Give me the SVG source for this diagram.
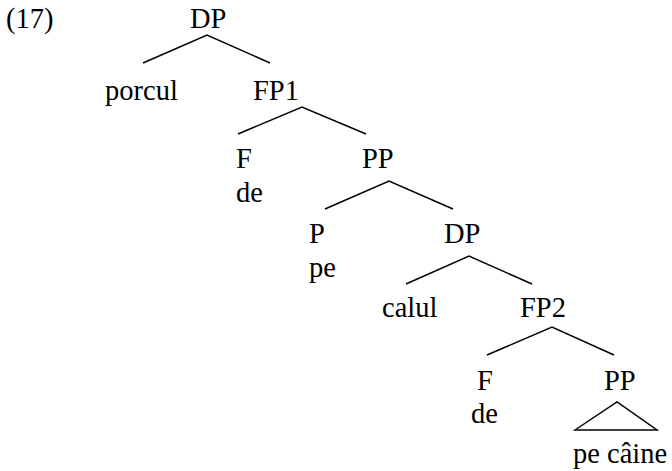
<svg xmlns="http://www.w3.org/2000/svg" width="672" height="471" viewBox="0 0 672 471">
<style>
.t{font-family:'Liberation Serif','Times New Roman','DejaVu Serif',serif;font-size:28.5px;fill:#000}
.e{stroke:#000;stroke-width:1.5;fill:none}
</style>
<rect width="672" height="471" fill="#fff"/>
<g class="t">
<text id="ex" x="6" y="28">(17)</text>
<g id="n_dp1"><text x="190" y="28">DP</text></g>
<g id="n_porcul"><text x="105" y="100">porcul</text></g>
<g id="n_fp1"><text x="253" y="100">FP1</text></g>
<g id="n_f1"><text x="236" y="168">F</text><text x="236" y="202">de</text></g>
<g id="n_pp1"><text x="362" y="168">PP</text></g>
<g id="n_p"><text x="309" y="243">P</text><text x="309" y="277">pe</text></g>
<g id="n_dp2"><text x="444" y="243">DP</text></g>
<g id="n_calul"><text x="382" y="317">calul</text></g>
<g id="n_fp2"><text x="520" y="317">FP2</text></g>
<g id="n_f2"><text x="477" y="390">F</text><text x="471" y="423">de</text></g>
<g id="n_pp2"><text x="604" y="390">PP</text></g>
<g id="n_tri"><text x="573" y="463">pe câine</text></g>
</g>
<g id="edges" class="e">
<path d="M143 63L207 35L270 63"/>
<path d="M238 134L302 107L366 134"/>
<path d="M325 209L389 181L453 209"/>
<path d="M406 284L469 256L532 284"/>
<path d="M487 355L552 327L614 355"/>
<path d="M575 430L617 402L657 430Z"/>
</g>
</svg>
